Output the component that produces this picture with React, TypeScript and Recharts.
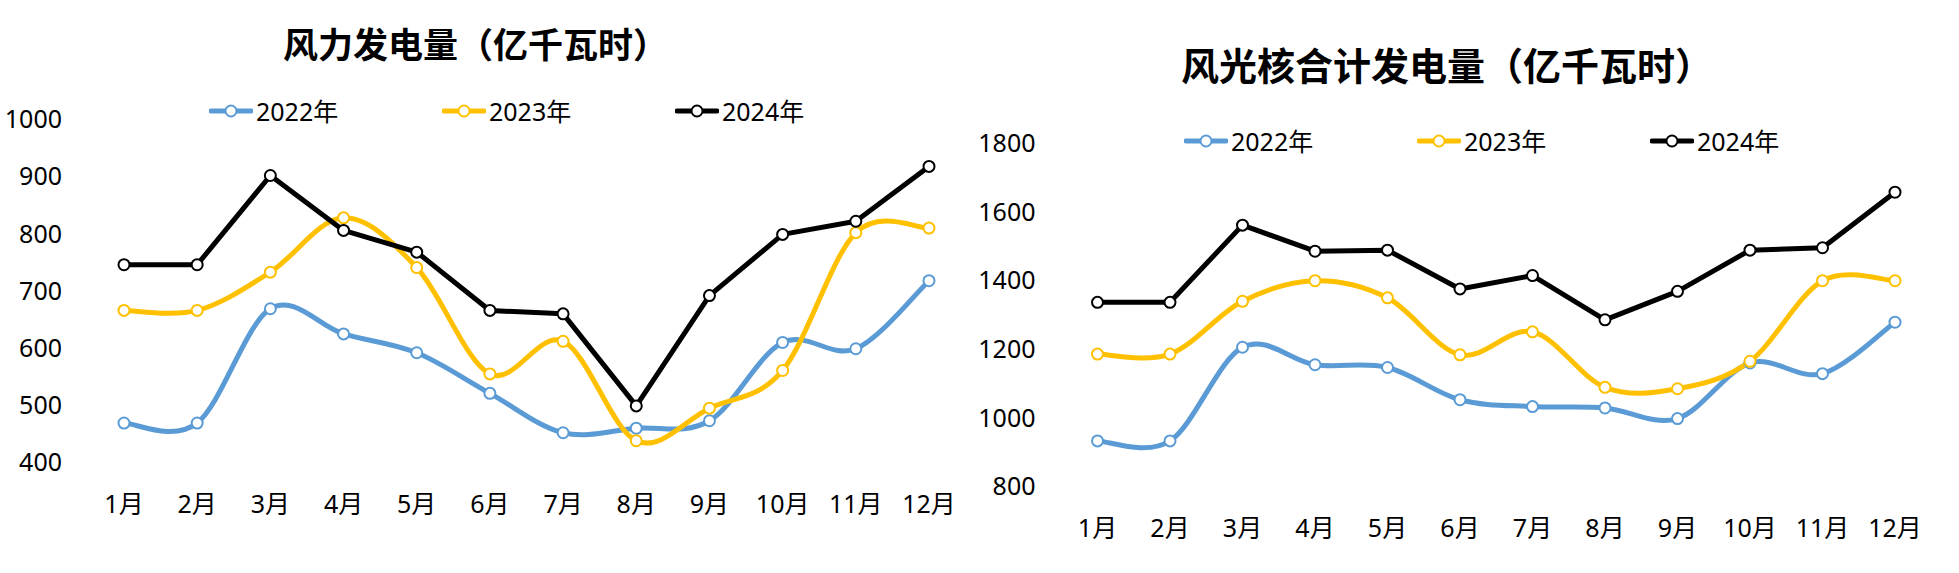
import React from 'react';
import { LineChart, Line, XAxis, YAxis } from 'recharts';

// ---- data ----
const months = ['1月', '2月', '3月', '4月', '5月', '6月', '7月', '8月', '9月', '10月', '11月', '12月'];
const seriesNames = ['2022年', '2023年', '2024年'];

const wind2022 = [469, 469, 669, 625, 592, 521, 452, 460, 473, 610, 599, 718];
const wind2023 = [666, 666, 733, 828, 741, 555, 612, 438, 495, 561, 802, 810];
const wind2024 = [746, 746, 902, 806, 768, 666, 660, 499, 692, 799, 822, 918];

const total2022 = [933, 933, 1206, 1155, 1147, 1053, 1033, 1029, 998, 1160, 1129, 1279];
const total2023 = [1186, 1186, 1340, 1400, 1350, 1184, 1251, 1089, 1085, 1165, 1400, 1400];
const total2024 = [1337, 1337, 1562, 1486, 1489, 1376, 1415, 1286, 1369, 1489, 1496, 1658];

const windTicks = [400, 500, 600, 700, 800, 900, 1000];
const totalTicks = [800, 1000, 1200, 1400, 1600, 1800];

const windTitle = '风力发电量（亿千瓦时）';
const totalTitle = '风光核合计发电量（亿千瓦时）';

// ---- styles ----
const BLUE = '#5B9BD5';
const YELLOW = '#FFC000';
const BLACK = '#000000';
const COLORS = [BLUE, YELLOW, BLACK];
const FONT = "'Noto Sans', 'Noto Sans CJK SC', sans-serif";
const TITLE_FONT = "'Noto Sans CJK SC', 'Noto Sans', sans-serif";

const windData = months.map((m, i) => ({ month: m, a: wind2022[i], b: wind2023[i], c: wind2024[i] }));
const totalData = months.map((m, i) => ({ month: m, a: total2022[i], b: total2023[i], c: total2024[i] }));

// Excel-like smoothed curve (Catmull-Rom style Bezier)
function excelSmooth(context: any) {
  let pts: number[][] = [];
  return {
    areaStart() {},
    areaEnd() {},
    lineStart() {
      pts = [];
    },
    lineEnd() {
      const n = pts.length;
      if (n === 0) return;
      context.moveTo(pts[0][0], pts[0][1]);
      for (let i = 0; i < n - 1; i++) {
        const p0 = pts[i === 0 ? 0 : i - 1];
        const p1 = pts[i];
        const p2 = pts[i + 1];
        const p3 = pts[i + 2 < n ? i + 2 : n - 1];
        context.bezierCurveTo(
          p1[0] + (p2[0] - p0[0]) / 6,
          p1[1] + (p2[1] - p0[1]) / 6,
          p2[0] - (p3[0] - p1[0]) / 6,
          p2[1] - (p3[1] - p1[1]) / 6,
          p2[0],
          p2[1]
        );
      }
    },
    point(x: number, y: number) {
      pts.push([+x, +y]);
    },
  };
}

const YTick = (props: any) => (
  <text x={props.x - 62} y={props.y} dy="0.35em" textAnchor="end" fontSize={25} fontFamily={FONT} fill="#000">
    {props.payload.value}
  </text>
);

const XTick = (props: any) => (
  <text x={props.x} y={props.y + 41.5} dy="0.35em" textAnchor="middle" fontSize={25} fontFamily={FONT} fill="#000">
    {props.payload.value}
  </text>
);

function LegendBox(props: { left: number; top: number }) {
  return (
    <div
      style={{
        position: 'absolute',
        left: props.left,
        top: props.top,
        height: 30,
        display: 'flex',
        alignItems: 'center',
      }}
    >
      {seriesNames.map((name, i) => (
        <div key={name} style={{ width: 233, display: 'flex', alignItems: 'center' }}>
          <svg width={44} height={16} style={{ display: 'block' }}>
            <line x1={2} y1={8} x2={42} y2={8} stroke={COLORS[i]} strokeWidth={5} strokeLinecap="round" />
            <circle cx={22} cy={8} r={5.5} fill="#fff" stroke={COLORS[i]} strokeWidth={2} />
          </svg>
          <span style={{ marginLeft: 3, fontSize: 25, fontFamily: FONT, lineHeight: '30px', color: '#000', whiteSpace: 'nowrap' }}>
            {name}
          </span>
        </div>
      ))}
    </div>
  );
}

const dotStyle = (c: string) => ({ r: 5.5, fill: '#ffffff', stroke: c, strokeWidth: 2 });

function Chart(props: {
  data: any[];
  width: number;
  margin: any;
  yWidth: number;
  domain: number[];
  ticks: number[];
}) {
  const { data, width, margin, yWidth, domain, ticks } = props;
  return (
    <LineChart width={width} height={573} data={data} margin={margin}>
      <XAxis
        dataKey="month"
        axisLine={false}
        tickLine={false}
        tickSize={0}
        tickMargin={0}
        height={50}
        interval={0}
        tick={XTick}
        padding={{ left: 0, right: 0 }}
      />
      <YAxis
        type="number"
        domain={domain}
        ticks={ticks}
        axisLine={false}
        tickLine={false}
        tickSize={0}
        tickMargin={0}
        width={yWidth}
        interval={0}
        tick={YTick}
      />
      <Line
        name={seriesNames[0]}
        dataKey="a"
        type={excelSmooth as any}
        stroke={BLUE}
        strokeWidth={5}
        strokeLinejoin="round"
        dot={dotStyle(BLUE)}
        activeDot={false}
        isAnimationActive={false}
      />
      <Line
        name={seriesNames[1]}
        dataKey="b"
        type={excelSmooth as any}
        stroke={YELLOW}
        strokeWidth={5}
        strokeLinejoin="round"
        dot={dotStyle(YELLOW)}
        activeDot={false}
        isAnimationActive={false}
      />
      <Line
        name={seriesNames[2]}
        dataKey="c"
        type="linear"
        stroke={BLACK}
        strokeWidth={5}
        strokeLinejoin="round"
        dot={dotStyle(BLACK)}
        activeDot={false}
        isAnimationActive={false}
      />
    </LineChart>
  );
}

export default function App() {
  return (
    <div
      style={{
        position: 'absolute',
        left: 0,
        top: 0,
        width: 1959,
        height: 573,
        background: '#ffffff',
        overflow: 'hidden',
      }}
    >
      <div style={{ position: 'absolute', left: 0, top: 0, width: 970, height: 573 }}>
        <Chart
          data={windData}
          width={970}
          margin={{ top: 119.5, right: 41, bottom: 60.5, left: 0 }}
          yWidth={124}
          domain={[400, 1000]}
          ticks={windTicks}
        />
        <LegendBox left={209} top={95.7} />
        <div
          style={{
            position: 'absolute',
            left: 0,
            width: 951,
            top: 42.5 - 25,
            height: 50,
            lineHeight: '50px',
            textAlign: 'center',
            fontFamily: TITLE_FONT,
            fontWeight: 700,
            fontSize: 35,
            color: '#000',
            whiteSpace: 'nowrap',
          }}
        >
          {windTitle}
        </div>
      </div>
      <div style={{ position: 'absolute', left: 970, top: 0, width: 989, height: 573 }}>
        <Chart
          data={totalData}
          width={989}
          margin={{ top: 143.5, right: 64, bottom: 36.5, left: 0 }}
          yWidth={127.5}
          domain={[800, 1800]}
          ticks={totalTicks}
        />
        <LegendBox left={214} top={125.7} />
        <div
          style={{
            position: 'absolute',
            left: 0,
            width: 954,
            top: 64 - 25,
            height: 50,
            lineHeight: '50px',
            textAlign: 'center',
            fontFamily: TITLE_FONT,
            fontWeight: 700,
            fontSize: 38,
            color: '#000',
            whiteSpace: 'nowrap',
          }}
        >
          {totalTitle}
        </div>
      </div>
    </div>
  );
}
